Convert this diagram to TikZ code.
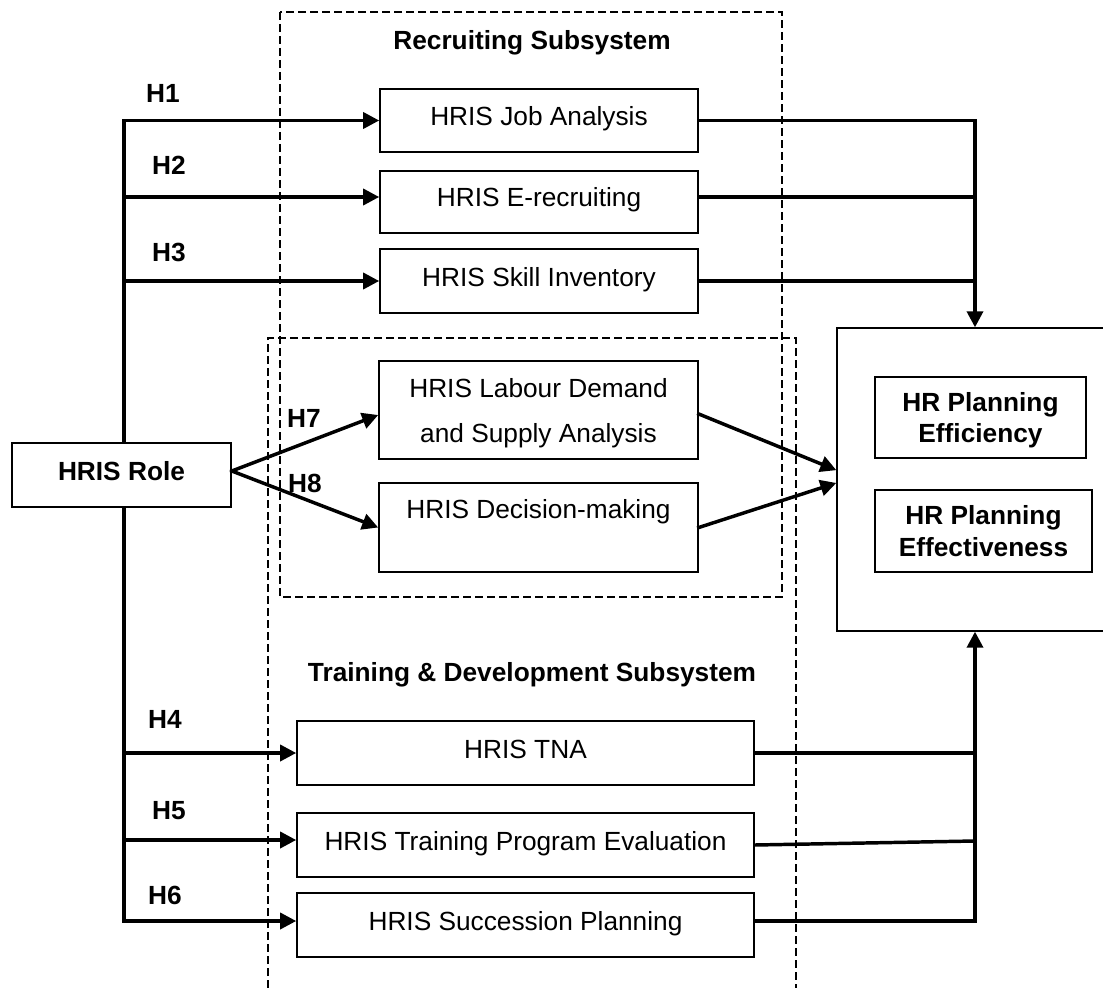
\documentclass[tikz,border=0pt]{standalone}
\usepackage{fontspec}
\setmainfont{Liberation Sans}
\usetikzlibrary{arrows.meta}
\newcommand\diagfont{\fontsize{19.7pt}{23.5pt}\selectfont}
\begin{document}
\begin{tikzpicture}[x=0.75pt,y=-0.75pt,
  box/.style={draw, line width=1.2pt, fill=white, inner sep=0pt, font=\diagfont, align=center},
  single/.style={text height=14pt, text depth=6.5pt},
  hlab/.style={font=\diagfont\bfseries, inner sep=0pt},
  title/.style={font=\diagfont\bfseries, inner sep=0pt, anchor=base},
  conn/.style={line width=2.6pt, line cap=rect},
  arr/.style={conn, -{Triangle[length=12pt,width=12pt]}},
  grp/.style={line width=1pt, dash pattern=on 6pt off 3pt}
]
% page frame
\clip (0,0) rectangle (1103,988);
\fill[white] (0,0) rectangle (1103,988);

% subsystem frames
\draw[grp] (280,12) rectangle (782,597);
\draw[grp] (268,1000) -- (268,338) -- (796,338) -- (796,1000);

\node[title] (trec) at (532,50) {Recruiting Subsystem};
\node[title] (ttrn) at (532,681) {Training \& Development Subsystem};

% predictor
\node[box,single,font=\diagfont\bfseries,minimum width=164.25pt,minimum height=48pt] (role) at (121.5,475) {HRIS Role};

% recruiting subsystem
\node[box,single,minimum width=238.5pt,minimum height=47.25pt] (ja) at (539,120.5) {HRIS Job Analysis};
\node[box,single,minimum width=238.5pt,minimum height=46.5pt] (er) at (539,202) {HRIS E-recruiting};
\node[box,single,minimum width=238.5pt,minimum height=48pt] (si) at (539,281) {HRIS Skill Inventory};

% shared part
\node[box,font=\fontsize{19.7pt}{33.75pt}\selectfont,text depth=0pt,minimum width=239.25pt,minimum height=73.5pt] (ld) at (538.5,410) {HRIS Labour Demand\\and Supply Analysis};
\node[box,text height=14pt,text depth=27pt,minimum width=239.25pt,minimum height=66.75pt] (dm) at (538.5,527.5) {HRIS Decision-making};

% training & development subsystem
\node[box,single,minimum width=342.75pt,minimum height=48pt] (tna) at (525.5,753) {HRIS TNA};
\node[box,single,minimum width=342.75pt,minimum height=48pt] (ev) at (525.5,845) {HRIS Training Program Evaluation};
\node[box,single,minimum width=342.75pt,minimum height=48pt] (sp) at (525.5,925) {HRIS Succession Planning};

% outcome
\node[draw,line width=1pt,fill=white,minimum width=212.25pt,minimum height=227.25pt] (out) at (978.5,479.5) {};
\node[box,font=\diagfont\bfseries,text depth=0pt,minimum width=158.25pt,minimum height=60.75pt] (eff) at (980.5,417.5) {HR Planning\\Efficiency};
\node[box,font=\diagfont\bfseries,text depth=0pt,minimum width=162.75pt,minimum height=61.5pt] (efv) at (983.5,531) {HR Planning\\Effectiveness};

% bus positions and connector ends
\coordinate (lbus) at (124,0);
\coordinate (rbus) at (975,0);
\coordinate (erin) at ([yshift=3.75pt]er.west);
\coordinate (erout) at ([yshift=3.75pt]er.east);
\coordinate (ldin) at ([yshift=-3.75pt]ld.west);
\coordinate (ldout) at ([yshift=-3pt]ld.east);
\coordinate (evin) at ([yshift=3.75pt]ev.west);
\coordinate (spin) at ([yshift=3pt]sp.west);
\coordinate (spout) at ([yshift=3pt]sp.east);
\coordinate (rolout) at ([yshift=3pt]role.east);
\coordinate (outa) at ([yshift=7pt]out.west);
\coordinate (outb) at ([yshift=-2.6pt]out.west);
\coordinate (evend) at ([yshift=3pt]ev.east -| rbus);

% left bus
\draw[conn] (lbus |- ja.west) -- (lbus |- role.north);
\draw[conn] (lbus |- role.south) -- (lbus |- spin);
\draw[arr] (lbus |- ja.west) -- (ja.west);
\draw[arr] (lbus |- erin) -- (erin);
\draw[arr] (lbus |- si.west) -- (si.west);
\draw[arr] (lbus |- tna.west) -- (tna.west);
\draw[arr] (lbus |- evin) -- (evin);
\draw[arr] (lbus |- spin) -- (spin);

% direct paths through the shared part
\draw[arr] (rolout) -- (ldin);
\draw[arr] (rolout) -- (dm.west);
\draw[arr] (ldout) -- (outa);
\draw[arr] (dm.east) -- (outb);

% right buses
\draw[arr] (ja.east) -- (ja.east -| rbus) -- (rbus |- out.north);
\draw[conn] (erout) -- (erout -| rbus);
\draw[conn] (si.east) -- (si.east -| rbus);
\draw[arr] (spout) -- (spout -| rbus) -- (rbus |- out.south);
\draw[conn] (tna.east) -- (tna.east -| rbus);
\draw[conn] (ev.east) -- (evend);

% hypothesis labels
\node[hlab] (h1) at (163,93) {H1};
\node[hlab] (h2) at (169,165) {H2};
\node[hlab] (h3) at (169,252) {H3};
\node[hlab] (h4) at (165,719) {H4};
\node[hlab] (h5) at (169,811) {H5};
\node[hlab] (h6) at (165,895) {H6};
\node[hlab] (h7) at (304,418) {H7};
\node[hlab] (h8) at (305,483) {H8};
\end{tikzpicture}
\end{document}
